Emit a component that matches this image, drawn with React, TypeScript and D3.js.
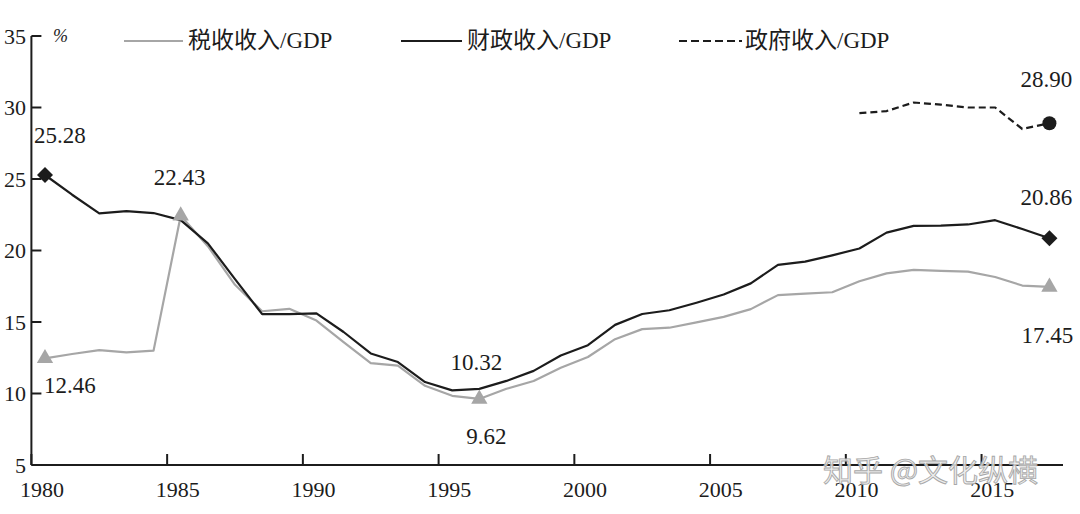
import React from 'react';
import * as d3 from 'd3';

const years: number[] = d3.range(1980, 2018);
const taxRatio = [12.46, 12.76, 13.03, 12.88, 13.0, 22.43, 20.3, 17.6, 15.75, 15.92, 15.1, 13.6, 12.12, 11.95, 10.54, 9.84, 9.62, 10.33, 10.87, 11.8, 12.55, 13.8, 14.5, 14.6, 14.97, 15.36, 15.9, 16.88, 16.98, 17.08, 17.85, 18.4, 18.65, 18.57, 18.52, 18.15, 17.55, 17.45];
const fiscalRatio = [25.28, 23.9, 22.6, 22.75, 22.62, 22.12, 20.5, 18.0, 15.55, 15.55, 15.6, 14.3, 12.8, 12.2, 10.8, 10.22, 10.32, 10.88, 11.58, 12.66, 13.38, 14.8, 15.56, 15.82, 16.35, 16.92, 17.7, 18.99, 19.22, 19.66, 20.14, 21.25, 21.72, 21.74, 21.82, 22.12, 21.5, 20.86];
const govYears: number[] = d3.range(2010, 2018);
const govRatio = [29.6, 29.75, 30.35, 30.2, 30.0, 30.0, 28.5, 28.9];

const yTicks = [5, 10, 15, 20, 25, 30, 35];
const xTickYears = [1980, 1985, 1990, 1995, 2000, 2005, 2010, 2015];

const legendLabels = ['税收收入/GDP', '财政收入/GDP', '政府收入/GDP'];

const TAX_COLOR = '#a6a6a6';
const INK = '#1c1c1c';
const SERIF = "'Liberation Serif', 'Times New Roman', Tinos, 'DejaVu Serif', serif, 'Noto Sans CJK SC'";

type Pt = { year: number; value: number };

const taxData: Pt[] = years.map((y, i) => ({ year: y, value: taxRatio[i] }));
const fiscalData: Pt[] = years.map((y, i) => ({ year: y, value: fiscalRatio[i] }));
const govData: Pt[] = govYears.map((y, i) => ({ year: y, value: govRatio[i] }));

const annotations = [
  { data: fiscalData, year: 1980, text: '25.28', dx: 15, dy: -32 },
  { data: taxData, year: 1985, text: '22.43', dx: -1, dy: -31 },
  { data: taxData, year: 1980, text: '12.46', dx: 25, dy: 35 },
  { data: fiscalData, year: 1996, text: '10.32', dx: -3, dy: -19 },
  { data: taxData, year: 1996, text: '9.62', dx: 7, dy: 45 },
  { data: govData, year: 2017, text: '28.90', dx: -3, dy: -36 },
  { data: fiscalData, year: 2017, text: '20.86', dx: -3, dy: -33 },
  { data: taxData, year: 2017, text: '17.45', dx: -2, dy: 56 },
];

export default function App() {
  const W = 1080;
  const H = 514;
  const x = d3.scaleLinear().domain([1979.5, 2017.5]).range([31.4, 1063]);
  const y = d3.scaleLinear().domain([5, 35]).range([465, 36]);

  const line = d3
    .line<Pt>()
    .x((d) => x(d.year))
    .y((d) => y(d.value))
    .curve(d3.curveLinear);

  const diamond = d3.symbol().type(d3.symbolSquare).size(128)();
  const triangle = d3.symbol().type(d3.symbolTriangle).size(115)();

  const val = (data: Pt[], yr: number) => data.find((d) => d.year === yr)!.value;

  const x0 = x(1979.5);
  const y0 = y(5);

  const legendItems = [
    { x1: 124, x2: 183, tx: 188, color: TAX_COLOR, dash: undefined as string | undefined, label: legendLabels[0] },
    { x1: 401, x2: 462, tx: 467, color: INK, dash: undefined, label: legendLabels[1] },
    { x1: 679, x2: 742, tx: 745, color: INK, dash: '8 4', label: legendLabels[2] },
  ];

  return (
    <div style={{ position: 'absolute', left: 0, top: 0 }}>
      <svg width={W} height={H} style={{ display: 'block', background: '#fff' }}>
        {/* axes */}
        <line x1={x0} x2={x0} y1={y(35)} y2={y0} stroke={INK} strokeWidth={2} />
        <line x1={x0} x2={x(2017.5)} y1={y0} y2={y0} stroke={INK} strokeWidth={2} />
        {yTicks.map((t) => (
          <g key={'y' + t}>
            <line x1={x0} x2={x0 + 10} y1={y(t)} y2={y(t)} stroke={INK} strokeWidth={2} />
            <text x={26} y={y(t)} dy="0.35em" textAnchor="end" fontFamily={SERIF} fontSize={22} fill={INK}>
              {t}
            </text>
          </g>
        ))}
        {xTickYears.map((t) => (
          <g key={'x' + t}>
            <line x1={x(t - 0.5)} x2={x(t - 0.5)} y1={y0} y2={y0 - 11} stroke={INK} strokeWidth={2} />
            <text x={x(t) - 3} y={497} textAnchor="middle" fontFamily={SERIF} fontSize={22} fill={INK}>
              {t}
            </text>
          </g>
        ))}
        <text x={53} y={42} fontFamily={SERIF} fontStyle="italic" fontSize={18} fill={INK}>
          %
        </text>

        {/* legend */}
        {legendItems.map((l) => (
          <g key={l.label}>
            <line x1={l.x1} x2={l.x2} y1={41} y2={41} stroke={l.color} strokeWidth={2} strokeDasharray={l.dash} />
            <text x={l.tx} y={48} fontFamily={SERIF} fontSize={23} fill={INK}>
              {l.label}
            </text>
          </g>
        ))}

        {/* series */}
        <path d={line(taxData) || ''} fill="none" stroke={TAX_COLOR} strokeWidth={2.2} strokeLinejoin="round" />
        <path d={line(fiscalData) || ''} fill="none" stroke={INK} strokeWidth={2.2} strokeLinejoin="round" />
        <path d={line(govData) || ''} fill="none" stroke={INK} strokeWidth={2.2} strokeDasharray="7 4" />

        {/* markers */}
        {[1980, 2017].map((yr) => (
          <path
            key={'d' + yr}
            d={diamond || ''}
            transform={`translate(${x(yr)},${y(val(fiscalData, yr))}) rotate(45)`}
            fill={INK}
          />
        ))}
        {[1980, 1985, 1996, 2017].map((yr) => (
          <path
            key={'t' + yr}
            d={triangle || ''}
            transform={`translate(${x(yr)},${y(val(taxData, yr))})`}
            fill={TAX_COLOR}
          />
        ))}
        <circle cx={x(2017)} cy={y(val(govData, 2017))} r={7} fill={INK} />

        {/* value labels */}
        {annotations.map((a) => (
          <text
            key={a.text}
            x={x(a.year) + a.dx}
            y={y(val(a.data, a.year)) + a.dy}
            textAnchor="middle"
            fontFamily={SERIF}
            fontSize={23}
            fill={INK}
          >
            {a.text}
          </text>
        ))}

        {/* watermark */}
        <text
          x={823}
          y={481}
          fontFamily="'Noto Sans CJK SC', sans-serif"
          fontSize={30}
          fill="#ececec"
          fillOpacity={0.85}
          stroke="#a8a8a8"
          strokeWidth={0.9}
        >
          知乎 @文化纵横
        </text>
      </svg>
    </div>
  );
}
